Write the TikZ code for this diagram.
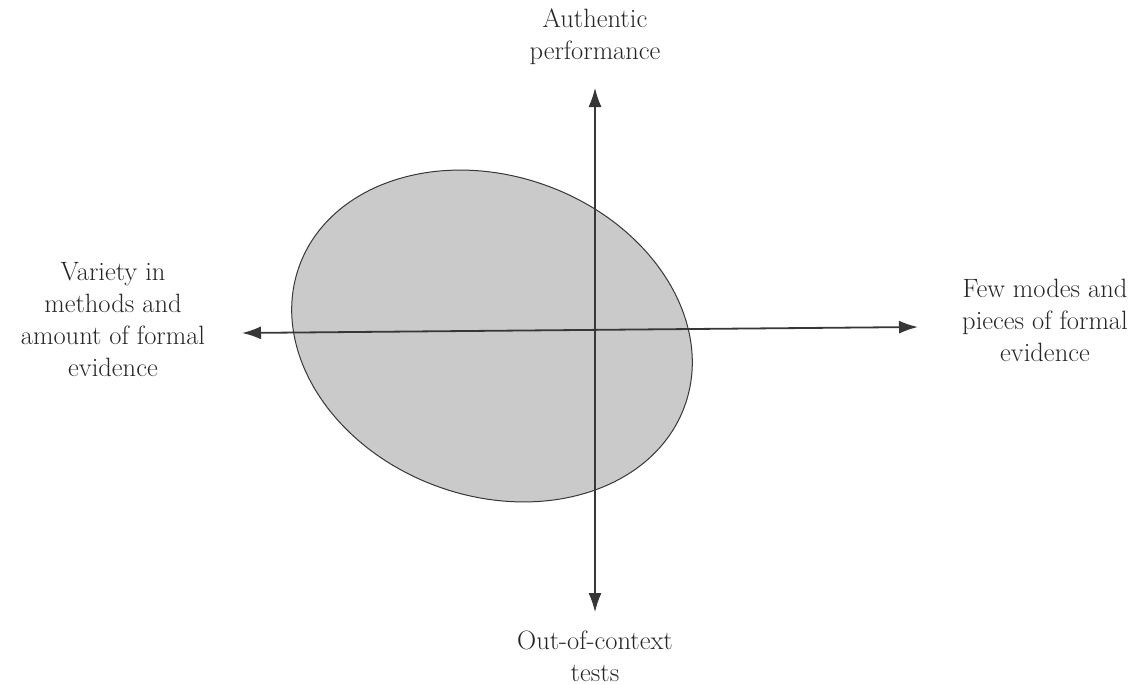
\documentclass[tikz,border=0pt]{standalone}
\usepackage{tikz}
\usetikzlibrary{arrows.meta,positioning}
\definecolor{blobgray}{RGB}{202,202,202}
\definecolor{inkgray}{RGB}{55,55,55}
\tikzset{
  axislabel/.style={align=center,font=\fontsize{26.5}{32}\selectfont,text=black!85,inner sep=0pt},
  axisarrow/.style={{Latex[length=19pt,width=13pt]}-{Latex[length=19pt,width=13pt]},draw=inkgray},
  blob/.style={draw=inkgray,fill=blobgray,line width=1pt}
}
\begin{document}
\begin{tikzpicture}[x=1pt,y=-1pt]
  \useasboundingbox (0,0) rectangle (1138,685);
  % shaded region
  \draw[blob] (492,336) ellipse[x radius=205,y radius=160,rotate=-20];
  % axes
  \coordinate (top) at (595,88);
  \coordinate (bottom) at (595,612);
  \coordinate (left) at (242,333);
  \coordinate (right) at (918,327);
  \draw[axisarrow,line width=1.3pt] (bottom) -- (top);
  \draw[axisarrow,line width=1.8pt] (left) -- (right);
  % labels
  \node[axislabel] (auth) at (595,37) {Authentic\\performance};
  \node[axislabel] (ooc) at (595,656) {Out-of-context\\tests};
  \node[axislabel] (variety) at (113,320) {Variety in\\methods and\\amount of formal\\evidence};
  \node[axislabel] (few) at (1045,320) {Few modes and\\pieces of formal\\evidence};
\end{tikzpicture}
\end{document}
